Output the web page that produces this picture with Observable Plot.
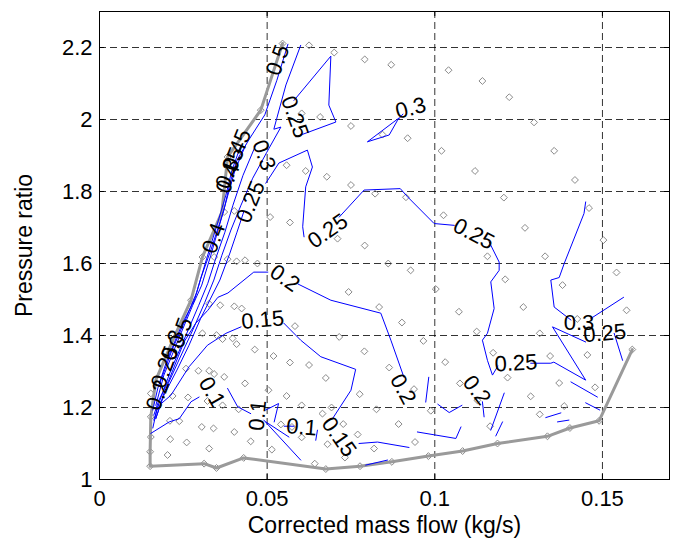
<!DOCTYPE html>
<html>
<head>
<meta charset="utf-8">
<script src="https://cdn.jsdelivr.net/npm/d3@7"></script>
<script src="https://cdn.jsdelivr.net/npm/@observablehq/plot@0.6"></script>
<style>
  html, body { margin: 0; padding: 0; background: #fff; }
  #chart { width: 676px; height: 544px; }
</style>
</head>
<body>
<div id="chart"></div>
<script>
// ---------- axes ----------
const xTicks = [0, 0.05, 0.1, 0.15];
const xTickLabels = ["0", "0.05", "0.1", "0.15"];
const yTicks = [1, 1.2, 1.4, 1.6, 1.8, 2, 2.2];
const yTickLabels = ["1", "1.2", "1.4", "1.6", "1.8", "2", "2.2"];
const xGrid = [0.05, 0.1, 0.15];
const yGrid = [1.2, 1.4, 1.6, 1.8, 2, 2.2];
const xLabel = "Corrected mass flow (kg/s)";
const yLabel = "Pressure ratio";

// ---------- measured operating points (gray diamonds) ----------
const samples = [
  [0.0546,2.211],[0.0625,2.206],[0.0700,2.186],[0.0791,2.167],[0.0870,2.152],[0.1041,2.137],[0.1142,2.107],[0.1222,2.062],[0.1296,1.992],
  [0.0603,2.017],[0.0658,2.007],[0.0750,1.982],[0.0844,1.958],[0.0919,1.948],[0.1020,1.913],[0.1356,1.913],[0.1120,1.857],[0.1418,1.832],
  [0.0558,1.873],[0.0615,1.857],[0.0678,1.841],[0.0750,1.818],[0.0822,1.794],[0.0914,1.784],[0.1206,1.783],[0.1460,1.754],
  [0.0481,2.026],[0.0382,1.896],[0.0372,1.743],
  [0.0509,1.729],[0.0568,1.714],[0.0710,1.669],[0.0791,1.650],[0.0861,1.600],[0.0928,1.581],[0.1026,1.734],[0.1269,1.699],[0.1503,1.665],
  [0.1157,1.620],[0.1329,1.620],[0.1542,1.575],[0.1210,1.556],[0.1381,1.540],[0.1003,1.529],[0.0743,1.521],[0.0834,1.479],[0.1264,1.479],
  [0.1072,1.466],[0.1572,1.470],[0.0902,1.436],[0.1425,1.446],[0.1125,1.411],[0.1313,1.406],[0.0715,1.396],[0.0966,1.385],
  [0.0402,1.746],[0.0471,1.600],[0.0307,1.618],[0.0342,1.618],[0.0382,1.612],[0.0409,1.606],[0.0434,1.609],
  [0.0360,1.484],[0.0402,1.481],[0.0424,1.475],[0.0583,1.426],[0.0307,1.406],[0.0349,1.401],[0.0367,1.390],[0.0397,1.392],[0.0409,1.376],
  [0.0463,1.361],[0.0519,1.343],[0.0568,1.325],[0.0625,1.318],[0.0675,1.282],[0.0273,1.498],[0.0327,1.488],
  [0.0790,1.356],[0.0864,1.311],[0.1031,1.326],[0.1174,1.352],[0.1344,1.343],[0.1455,1.346],[0.1589,1.361],[0.1217,1.283],[0.1075,1.267],
  [0.1371,1.268],[0.1478,1.256],[0.0938,1.251],[0.0776,1.237],[0.1286,1.231],[0.1127,1.220],[0.0826,1.195],[0.0988,1.191],[0.1386,1.204],
  [0.1313,1.181],[0.0727,1.154],[0.0892,1.154],[0.1165,1.148],[0.0770,1.125],[0.0941,1.104],[0.0819,1.086],[0.0732,1.061],
  [0.1490,1.163],[0.1403,1.143],[0.1336,1.120],[0.1187,1.100],[0.1083,1.079],[0.0981,1.065],[0.0872,1.049],[0.0777,1.037],[0.0675,1.029],
  [0.0430,1.060],[0.0349,1.032],[0.0312,1.044],[0.0151,1.037],[0.0151,1.077],[0.0153,1.118],[0.0153,1.174],
  [0.0153,1.239],[0.0218,1.232],[0.0264,1.228],[0.0322,1.218],[0.0367,1.206],[0.0434,1.267],[0.0504,1.248],[0.0558,1.232],[0.0603,1.206],
  [0.0665,1.183],[0.0692,1.200],[0.0415,1.195],[0.0238,1.162],[0.0210,1.163],
  [0.0305,1.146],[0.0340,1.142],[0.0402,1.132],[0.0451,1.106],[0.0541,1.153],[0.0574,1.146],[0.0603,1.117],[0.0680,1.098],
  [0.0211,1.112],[0.0260,1.103],[0.0327,1.086],[0.0514,1.083],[0.0203,1.068],[0.0642,1.044],
  [0.0258,1.308],[0.0295,1.302],[0.0327,1.302],[0.0342,1.293],[0.0372,1.285]
];

// ---------- operating envelope (gray thick line: surge line + lowest speed) ----------
const envelope = [
  [0.0546,2.211],[0.0481,2.026],[0.0382,1.896],[0.0372,1.804],[0.0365,1.743],[0.0307,1.618],[0.0273,1.498],[0.0223,1.396],
  [0.0168,1.276],[0.0153,1.174],[0.0151,1.077],[0.0151,1.037],
  [0.0312,1.044],[0.0349,1.032],[0.0430,1.060],[0.0675,1.029],[0.0777,1.037],[0.0872,1.049],[0.0981,1.065],[0.1083,1.079],
  [0.1187,1.100],[0.1336,1.120],[0.1403,1.143],[0.1490,1.163],[0.1589,1.361]
];

// ---------- efficiency contour pieces (polylines) ----------
const eff050 = [[0.0562,2.209],[0.0529,2.109],[0.0493,2.013],[0.0445,1.943],[0.0410,1.887],[0.0389,1.823],[0.0371,1.748],[0.0332,1.637],[0.0302,1.559],[0.0283,1.498],[0.0249,1.437],[0.0201,1.331],[0.0174,1.254],[0.0159,1.193]];
const eff045 = [[0.0422,1.929],[0.0395,1.859],[0.0377,1.790],[0.0353,1.715],[0.0320,1.615],[0.0290,1.520],[0.0258,1.448],[0.0216,1.359],[0.0180,1.268]];
const eff040 = [[0.0436,1.929],[0.0404,1.859],[0.0383,1.790],[0.0362,1.720],[0.0332,1.623],[0.0305,1.540],[0.0278,1.484],[0.0237,1.393],[0.0192,1.290],[0.0168,1.206]];
const eff035 = [[0.0466,1.929],[0.0428,1.845],[0.0398,1.762],[0.0374,1.687],[0.0347,1.615],[0.0323,1.545],[0.0296,1.484],[0.0258,1.401],[0.0213,1.304],[0.0180,1.220],[0.0162,1.165]];
const eff030a = [[0.0600,2.206],[0.0556,2.096],[0.0529,2.004],[0.0520,1.973],[0.0541,1.979],[0.0499,1.909],[0.0457,1.837],[0.0422,1.762],[0.0392,1.693],[0.0365,1.623],[0.0341,1.554],[0.0314,1.492],[0.0278,1.415],[0.0234,1.326],[0.0192,1.240],[0.0168,1.169]];
const eff030b = [[0.0893,2.004],[0.0799,1.938],[0.0864,1.957],[0.0889,1.998],[0.0905,2.015]];
const eff030c = [[0.1450,1.771],[0.1445,1.739],[0.1386,1.600],[0.1371,1.561],[0.1346,1.554],[0.1356,1.479],[0.1406,1.443]];
const eff030d = [[0.1465,1.447],[0.1563,1.506]];
const eff025a = [[0.0580,2.053],[0.0690,2.176],[0.0684,2.040],[0.0705,1.993],[0.0586,1.952]];
const eff025b = [[0.0168,1.170],[0.0192,1.234],[0.0231,1.304],[0.0267,1.373],[0.0302,1.448],[0.0332,1.504],[0.0359,1.554],[0.0389,1.629],[0.0410,1.687],[0.0430,1.743]];
const eff025c = [[0.0496,1.823],[0.0535,1.879],[0.0620,1.915],[0.0635,1.868],[0.0615,1.813],[0.0606,1.702],[0.0610,1.674]];
const eff025d = [[0.0715,1.729],[0.0789,1.804],[0.0897,1.808],[0.0919,1.785],[0.0998,1.711],[0.1058,1.706]];
const eff025e = [[0.1162,1.660],[0.1192,1.604],[0.1192,1.581],[0.1167,1.549],[0.1177,1.475],[0.1157,1.406],[0.1142,1.387],[0.1157,1.331],[0.1172,1.290],[0.1188,1.315]];
const eff025f = [[0.1286,1.323],[0.1346,1.323],[0.1355,1.326],[0.1450,1.276],[0.1351,1.424],[0.1450,1.382]];
const eff025g = [[0.1535,1.406],[0.1560,1.331]];
const eff020a = [[0.0162,1.179],[0.0177,1.220],[0.0207,1.276],[0.0252,1.382],[0.0287,1.434],[0.0323,1.470],[0.0353,1.506],[0.0383,1.518],[0.0460,1.576],[0.0502,1.576]];
const eff020b = [[0.0592,1.543],[0.0690,1.498],[0.0839,1.462],[0.0869,1.387],[0.0908,1.284]];
const eff020c = [[0.0982,1.284],[0.0973,1.215]];
const eff020d = [[0.1009,1.209],[0.1043,1.186],[0.1081,1.206]];
const eff020e = [[0.0948,1.132],[0.1063,1.114],[0.1078,1.146]];
const eff020f = [[0.1207,1.240],[0.1167,1.137]];
const eff020g = [[0.1202,1.160],[0.1182,1.121]];
const eff020h = [[0.1142,1.216],[0.1147,1.174]];
const eff020i = [[0.1406,1.271],[0.1485,1.229]];
const eff020j = [[0.1450,1.213],[0.1492,1.193]];
const eff020k = [[0.1331,1.172],[0.1376,1.185]];
const eff020l = [[0.1366,1.160],[0.1400,1.165]];
const eff015a = [[0.0159,1.143],[0.0173,1.202],[0.0213,1.234],[0.0267,1.313],[0.0322,1.373],[0.0377,1.406],[0.0422,1.424]];
const eff015b = [[0.0550,1.434],[0.0600,1.387],[0.0660,1.341],[0.0764,1.306],[0.0750,1.248],[0.0695,1.169]];
const eff015c = [[0.0774,1.100],[0.0829,1.104],[0.0923,1.089]];
const eff015d = [[0.0794,1.040],[0.0859,1.054]];
const eff010a = [[0.0153,1.128],[0.0208,1.160],[0.0238,1.169],[0.0273,1.216],[0.0297,1.229]];
const eff010b = [[0.0382,1.253],[0.0412,1.202],[0.0451,1.183]];
const eff010c = [[0.0490,1.165],[0.0600,1.054]];
const eff010d = [[0.0496,1.160],[0.0565,1.118]];
const eff010e = [[0.0496,1.193],[0.0534,1.211],[0.0521,1.160]];
const eff010f = [[0.0551,1.148],[0.0580,1.148]];
const eff010g = [[0.0650,1.137],[0.0645,1.109]];

const contourPieces = [eff050, eff045, eff040, eff035, eff030a, eff030b, eff030c, eff030d,
  eff025a, eff025b, eff025c, eff025d, eff025e, eff025f, eff025g,
  eff020a, eff020b, eff020c, eff020d, eff020e, eff020f, eff020g, eff020h, eff020i, eff020j, eff020k, eff020l,
  eff015a, eff015b, eff015c, eff015d,
  eff010a, eff010b, eff010c, eff010d, eff010e, eff010f, eff010g];

// ---------- contour labels ----------
const labelText = ["0.5","0.25","0.3","0.45","0.35","0.4","0.3","0.25","0.4","0.25","0.25","0.2","0.15",
                   "0.5","0.3","0.25","0.2","0.1","0.1","0.1","0.15","0.2","0.2","0.25","0.3","0.25"];
const labelX = [0.0532,0.0582,0.0928,0.0410,0.0389,0.0383,0.0490,0.0451,0.0341,0.0681,0.1116,0.0553,0.0487,
                0.0243,0.0219,0.0195,0.0174,0.0335,0.0472,0.0603,0.0714,0.0905,0.1125,0.1242,0.1430,0.1507];
const labelY = [2.165,2.007,2.031,1.915,1.865,1.837,1.901,1.771,1.670,1.690,1.682,1.559,1.443,
                1.407,1.373,1.312,1.234,1.243,1.178,1.145,1.118,1.251,1.248,1.323,1.434,1.406];
const labelAngle = [-70,70,-15,-68,-68,-68,70,-68,-70,-35,28,35,-5,
                    -70,-70,-70,-70,60,-85,5,55,62,52,-3,0,-5];

// ---------- build tables ----------
const pts = samples.map(([x, y]) => ({x, y}));
const env = envelope.map(([x, y]) => ({x, y}));
const lines = contourPieces.flatMap((piece, id) => piece.map(([x, y]) => ({x, y, id})));
const labels = labelText.map((t, i) => ({t, x: labelX[i], y: labelY[i], r: labelAngle[i]}));

const font = "'Liberation Sans', Arial, Helvetica, sans-serif";

const chart = Plot.plot({
  width: 676,
  height: 544,
  marginLeft: 99,
  marginRight: 7,
  marginTop: 11,
  marginBottom: 65,
  style: {fontFamily: font, fontSize: "22px", color: "black", background: "white"},
  x: {domain: [0, 0.17]},
  y: {domain: [1, 2.3]},
  marks: [
    Plot.gridX(xGrid, {stroke: "black", strokeOpacity: 0.8, strokeDasharray: "7,4", strokeWidth: 1}),
    Plot.gridY(yGrid, {stroke: "black", strokeOpacity: 0.8, strokeDasharray: "7,4", strokeWidth: 1}),
    Plot.dot(pts, {x: "x", y: "y", symbol: "diamond2", r: 3.1, stroke: "#8a8a8a", strokeWidth: 1, fill: "none"}),
    Plot.line(env, {x: "x", y: "y", stroke: "#9a9a9a", strokeWidth: 3}),
    Plot.line(lines, {x: "x", y: "y", z: "id", stroke: "#0000ff", strokeWidth: 1, curve: "linear"}),
    Plot.text(labels, {x: "x", y: "y", text: "t", rotate: "r", fontSize: 22, fill: "black", fontFamily: font}),
    Plot.tickX(xTicks, {x: d => d, stroke: "black", insetTop: 463}),
    Plot.tickX(xTicks, {x: d => d, stroke: "black", insetBottom: 463}),
    Plot.tickY(yTicks, {y: d => d, stroke: "black", insetLeft: 565}),
    Plot.tickY(yTicks, {y: d => d, stroke: "black", insetRight: 565}),
    Plot.frame({stroke: "black", strokeWidth: 1}),
    Plot.axisX({ticks: xTicks, tickSize: 0, tickPadding: 11, tickFormat: (d, i) => xTickLabels[i], label: null, fontSize: 22}),
    Plot.axisY({ticks: yTicks, tickSize: 0, tickPadding: 7, tickFormat: (d, i) => yTickLabels[i], label: null, fontSize: 22}),
    Plot.text([xLabel], {frameAnchor: "bottom", dy: 53, fontSize: 23, fill: "black", textAnchor: "middle"}),
    Plot.text([yLabel], {frameAnchor: "left", dx: -75, rotate: -90, fontSize: 23, fill: "black", textAnchor: "middle"})
  ]
});

document.getElementById("chart").appendChild(chart);
</script>
</body>
</html>
